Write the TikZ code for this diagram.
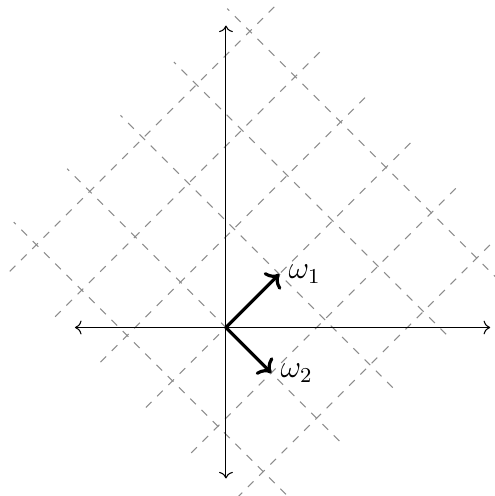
\documentclass[tikz,border=0pt]{standalone}
\usepackage{amsmath,amssymb}
\usetikzlibrary{arrows.meta,positioning,calc}

\begin{document}
\begin{tikzpicture}[
  latline/.style={dashed, draw=gray!90},
  axisline/.style={<->},
  basevec/.style={->, very thick},
  veclabel/.style={right, font=\large}
]
\clip (-2.993,-2.232) rectangle (3.563,4.338);

\coordinate (O)  at (0,0);
\coordinate (w1) at (45:1);
\coordinate (w2) at (-45:0.85);

% lattice lines
\foreach \j in {-3,...,2}
  \draw[latline] ($\j*(w2)-1.5*(w1)$) -- ($\j*(w2)+3.5*(w1)$);
\foreach \k in {-1,...,3}
  \draw[latline] ($\k*(w1)+2.5*(w2)$) -- ($\k*(w1)-3.5*(w2)$);

% axes
\coordinate (xl) at (-2,0);
\coordinate (xr) at (3.5,0);
\coordinate (yb) at (0,-2);
\coordinate (yt) at (0,4);
\draw[axisline] (xl) -- (xr);
\draw[axisline] (yb) -- (yt);

% basis
\draw[basevec] (O) -- (w1);
\draw[basevec] (O) -- (w2);
\node[veclabel] (l1) at (w1) {$\omega_1$};
\node[veclabel] (l2) at (w2) {$\omega_2$};
\end{tikzpicture}
\end{document}
